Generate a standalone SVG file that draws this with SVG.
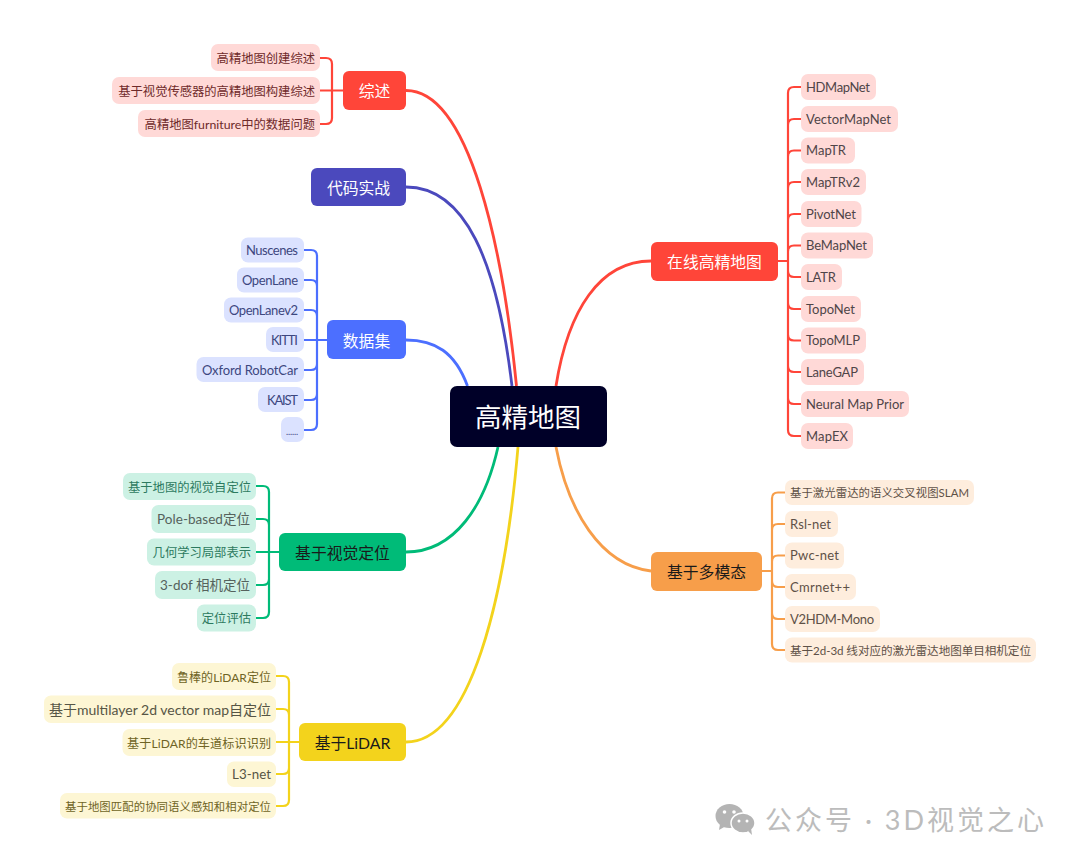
<svg xmlns="http://www.w3.org/2000/svg" width="1080" height="863" viewBox="0 0 1080 863">
<style>
text{font-family:Lato,"Noto Sans CJK SC",sans-serif}
.l{font-size:12.3px}
.n{font-size:13px}
.e{text-anchor:end}
.b{font-size:15.8px;text-anchor:middle}
.w{fill:#fff}.d{fill:#1a1a1a}
.c{fill:none;stroke-width:2.2;stroke-linecap:round}
.m{fill:none;stroke-width:2.8}
.red{stroke:#ff4539}.pur{stroke:#4b49bd}.blu{stroke:#4c6fff}.grn{stroke:#00bb78}.yel{stroke:#f3d31c}.ora{stroke:#f79e4a}
.fr{fill:#ffd9d7}.fb{fill:#dbe2ff}.fg{fill:#ccf1e4}.fy{fill:#fdf6d4}.fo{fill:#feeddd}
.tr{fill:#6e2a2a}.trg{fill:#4f4548}.tb{fill:#3d4780}.tg{fill:#2c7a5f}.tgg{fill:#55625d}.ty{fill:#6f6425}.tyg{fill:#565545}.to{fill:#5e5147}
</style>
<g id="connectors">
<path class="m red" d="M406 90.500C470 90.500 503 250 516.500 386"/>
<path class="m pur" d="M406 187C465 187 497 260 512 386"/>
<path class="m blu" d="M406 340C435 340 455 352 467.500 386"/>
<path class="m grn" d="M406 552C455 552 485 505 498 447"/>
<path class="m yel" d="M406 742C470 742 505 600 518 447"/>
<path class="m red" d="M651 261C600 261 568 310 556 386"/>
<path class="m ora" d="M651 571C600 565 568 510 556 447"/>
<path class="c red" d="M320 58H326Q332 58 332 64V118Q332 124 326 124H320M320 90.500H343"/>
<path class="c blu" d="M304 250H311Q317 250 317 256V424Q317 430 311 430H304M304 340H327M304 280H311Q317 280 317 286M304 310H311Q317 310 317 316M304 370H311Q317 370 317 364M304 400H311Q317 400 317 394"/>
<path class="c grn" d="M256 486H263Q269 486 269 492V612Q269 618 263 618H256M256 552H279M256 519H263Q269 519 269 525M256 585H263Q269 585 269 579"/>
<path class="c yel" d="M276 676H283Q289 676 289 682V800Q289 806 283 806H276M276 742H299M276 709H283Q289 709 289 715M276 774H283Q289 774 289 768"/>
<path class="c red" d="M801 87H794Q788 87 788 93V430Q788 436 794 436H801M778 261H788M801 119H794Q788 119 788 125M801 150.500H794Q788 150.500 788 156.500M801 182H794Q788 182 788 188M801 214H794Q788 214 788 220M801 245.500H794Q788 245.500 788 251.500M801 277H794Q788 277 788 271M801 309H794Q788 309 788 303M801 340.500H794Q788 340.500 788 334.500M801 372H794Q788 372 788 366M801 404H794Q788 404 788 398"/>
<path class="c ora" d="M785 492.500H778Q772 492.500 772 498.500V644Q772 650 778 650H785M762 571H772M785 524H778Q772 524 772 530M785 555.500H778Q772 555.500 772 561.500M785 587H778Q772 587 772 581M785 619H778Q772 619 772 613"/>
</g>
<g id="root"><rect x="450" y="386" width="157" height="61" rx="7" fill="#000028"/><text x="528" y="426.500" font-size="26.500" text-anchor="middle" fill="#fff">高精地图</text></g>

<g id="b-review"><rect x="343" y="71" width="63" height="39" rx="6" fill="#ff4539"/><text class="b w" x="374.500" y="97">综述</text></g>
<g id="b-code"><rect x="311" y="168" width="95" height="38" rx="6" fill="#4b49bd"/><text class="b w" x="358.500" y="194">代码实战</text></g>
<g id="b-data"><rect x="327" y="320" width="79" height="39" rx="6" fill="#4c6fff"/><text class="b w" x="366.500" y="347">数据集</text></g>
<g id="b-vision"><rect x="279" y="533" width="127" height="38" rx="6" fill="#00bb78"/><text class="b d" x="342.500" y="559">基于视觉定位</text></g>
<g id="b-lidar"><rect x="299" y="723" width="107" height="38" rx="6" fill="#f3d31c"/><text class="b d" x="352.500" y="749">基于LiDAR</text></g>
<g id="b-online"><rect x="651" y="242" width="127" height="39" rx="6" fill="#ff4539"/><text class="b w" x="714.500" y="268">在线高精地图</text></g>
<g id="b-multi"><rect x="651" y="552" width="111" height="39" rx="6" fill="#f79e4a"/><text class="b d" x="706.500" y="578">基于多模态</text></g>

<g id="r1"><rect class="fr" x="211" y="44" width="109" height="27" rx="7"/><text class="l e tr" x="315" y="63">高精地图创建综述</text></g>
<g id="r2"><rect class="fr" x="112" y="77" width="208" height="27" rx="7"/><text class="l e tr" x="315" y="96">基于视觉传感器的高精地图构建综述</text></g>
<g id="r3"><rect class="fr" x="138" y="110" width="182" height="27" rx="7"/><text class="l e tr" x="315" y="129">高精地图furniture中的数据问题</text></g>

<g id="d1"><rect class="fb" x="241" y="237.500" width="63" height="25" rx="7"/><text class="n tb" x="246" y="254.500" textLength="52">Nuscenes</text></g>
<g id="d2"><rect class="fb" x="237" y="267.500" width="67" height="25" rx="7"/><text class="n tb" x="242" y="284.500" textLength="56">OpenLane</text></g>
<g id="d3"><rect class="fb" x="224" y="297.500" width="80" height="25" rx="7"/><text class="n tb" x="229" y="314.500" textLength="69">OpenLanev2</text></g>
<g id="d4"><rect class="fb" x="266" y="327" width="38" height="25" rx="7"/><text class="n tb" x="271" y="344.500" textLength="27">KITTI</text></g>
<g id="d5"><rect class="fb" x="196.500" y="357" width="107.500" height="25" rx="7"/><text class="n tb" x="202" y="374.500" textLength="96">Oxford RobotCar</text></g>
<g id="d6"><rect class="fb" x="258" y="387" width="46" height="25" rx="7"/><text class="n tb" x="267" y="404.500" textLength="31">KAIST</text></g>
<g id="d7"><rect class="fb" x="281" y="417" width="23" height="25" rx="7"/><text class="tb" font-size="9" x="286" y="435" textLength="12">......</text></g>

<g id="v1"><rect class="fg" x="123" y="473" width="133" height="27" rx="7"/><text class="l e tg" x="251" y="491.500">基于地图的视觉自定位</text></g>
<g id="v2"><rect class="fg" x="151.500" y="505" width="104.500" height="28" rx="7"/><text class="tgg" font-size="13.500" x="157" y="524" textLength="93">Pole-based定位</text></g>
<g id="v3"><rect class="fg" x="147" y="538.500" width="109" height="27" rx="7"/><text class="l e tg" x="251" y="557">几何学习局部表示</text></g>
<g id="v4"><rect class="fg" x="155" y="571" width="101" height="28" rx="7"/><text class="tgg" font-size="13.500" x="160" y="590" textLength="90">3-dof 相机定位</text></g>
<g id="v5"><rect class="fg" x="197" y="604.500" width="59" height="27" rx="7"/><text class="l e tg" x="251" y="623">定位评估</text></g>

<g id="y1"><rect class="fy" x="172" y="663" width="104" height="27" rx="7"/><text class="ty" font-size="12" x="177" y="681.500" textLength="94">鲁棒的LiDAR定位</text></g>
<g id="y2"><rect class="fy" x="44" y="695.500" width="232" height="27.500" rx="7"/><text class="tyg" font-size="14" x="49" y="714.500" textLength="222">基于multilayer 2d vector map自定位</text></g>
<g id="y3"><rect class="fy" x="122.500" y="729" width="153.500" height="27" rx="7"/><text class="ty" font-size="12.100" x="127" y="747.500" textLength="144">基于LiDAR的车道标识识别</text></g>
<g id="y4"><rect class="fy" x="227" y="761.500" width="49" height="25.500" rx="7"/><text class="tyg" font-size="13.300" x="232" y="779" textLength="39">L3-net</text></g>
<g id="y5"><rect class="fy" x="60" y="793" width="216" height="25.500" rx="7"/><text class="ty" font-size="11.400" x="65" y="810.500" textLength="206">基于地图匹配的协同语义感知和相对定位</text></g>

<g id="o1"><rect class="fr" x="801" y="74" width="75" height="26" rx="7"/><text class="n trg" x="806" y="91.500" textLength="64">HDMapNet</text></g>
<g id="o2"><rect class="fr" x="801" y="106" width="97" height="26" rx="7"/><text class="n trg" x="806" y="123.500" textLength="85">VectorMapNet</text></g>
<g id="o3"><rect class="fr" x="801" y="137.500" width="54" height="26" rx="7"/><text class="n trg" x="806" y="155" textLength="40">MapTR</text></g>
<g id="o4"><rect class="fr" x="801" y="169" width="65" height="26" rx="7"/><text class="n trg" x="806" y="186.500" textLength="54">MapTRv2</text></g>
<g id="o5"><rect class="fr" x="801" y="201" width="60.500" height="26" rx="7"/><text class="n trg" x="806" y="218.500" textLength="50">PivotNet</text></g>
<g id="o6"><rect class="fr" x="801" y="232.500" width="72" height="26" rx="7"/><text class="n trg" x="806" y="250" textLength="61">BeMapNet</text></g>
<g id="o7"><rect class="fr" x="801" y="264" width="41" height="26" rx="7"/><text class="n trg" x="806" y="281.500" textLength="30">LATR</text></g>
<g id="o8"><rect class="fr" x="801" y="296" width="60" height="26" rx="7"/><text class="n trg" x="806" y="313.500" textLength="49">TopoNet</text></g>
<g id="o9"><rect class="fr" x="801" y="327.500" width="65" height="26" rx="7"/><text class="n trg" x="806" y="345" textLength="54">TopoMLP</text></g>
<g id="o10"><rect class="fr" x="801" y="359" width="63" height="26" rx="7"/><text class="n trg" x="806" y="376.500" textLength="52">LaneGAP</text></g>
<g id="o11"><rect class="fr" x="801" y="391" width="108" height="26" rx="7"/><text class="n trg" x="806" y="408.500" textLength="98">Neural Map Prior</text></g>
<g id="o12"><rect class="fr" x="801" y="423" width="52" height="26" rx="7"/><text class="n trg" x="806" y="440.500" textLength="42">MapEX</text></g>

<g id="m1"><rect class="fo" x="785" y="480" width="189" height="25" rx="7"/><text class="to" font-size="11.400" x="790" y="497" textLength="179">基于激光雷达的语义交叉视图SLAM</text></g>
<g id="m2"><rect class="fo" x="785" y="511" width="53" height="26" rx="7"/><text class="n to" x="790" y="528.500" textLength="41">Rsl-net</text></g>
<g id="m3"><rect class="fo" x="785" y="542.500" width="59" height="26" rx="7"/><text class="n to" x="790" y="560" textLength="49">Pwc-net</text></g>
<g id="m4"><rect class="fo" x="785" y="574" width="71" height="26" rx="7"/><text class="n to" x="790" y="591.500" textLength="60">Cmrnet++</text></g>
<g id="m5"><rect class="fo" x="785" y="606" width="95" height="26" rx="7"/><text class="n to" x="790" y="623.500" textLength="84">V2HDM-Mono</text></g>
<g id="m6"><rect class="fo" x="785" y="637.500" width="251" height="25" rx="7"/><text class="to" font-size="11.600" x="790" y="654.500" textLength="241">基于2d-3d 线对应的激光雷达地图单目相机定位</text></g>

<g id="watermark" fill="#b4b4b4">
<ellipse cx="729.500" cy="816" rx="14" ry="12"/>
<path d="M720 824l-1 6 7-4z"/>
<ellipse cx="743" cy="823" rx="12" ry="10" stroke="#fff" stroke-width="1.500"/>
<path d="M748 831l4 4-1-7z"/>
<circle cx="724.500" cy="812" r="1.800" fill="#fff"/><circle cx="734" cy="812" r="1.800" fill="#fff"/>
<circle cx="739" cy="821" r="1.500" fill="#fff"/><circle cx="747" cy="821" r="1.500" fill="#fff"/>
<text x="765" y="830" font-size="27" textLength="279" fill="#bcbcbc">公众号 · 3D视觉之心</text>
</g>
</svg>
